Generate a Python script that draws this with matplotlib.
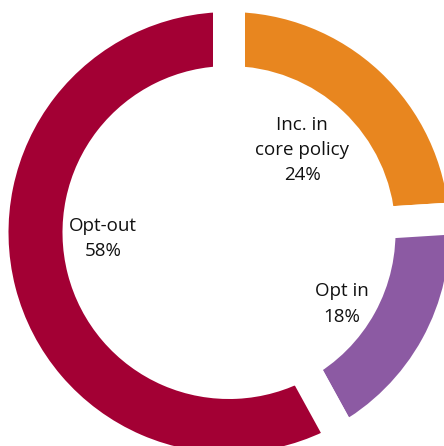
import matplotlib.pyplot as plt

# data
labels = ["Inc. in\ncore policy", "Opt in", "Opt-out"]
shares = [24, 18, 58]
colors = ["#E8861F", "#8C5AA3", "#A30034"]

# label anchor points (pixel coords, last-line baseline)
label_pos = [(302, 180), (341.5, 321.5), (103, 256)]

W, H = 444, 446
cx, cy = 229, 232.5
r_out, r_in = 220.5, 166.5
gap = 32  # px of white between slices

fig = plt.figure(figsize=(W / 100, H / 100), dpi=100)
ax = fig.add_axes([0, 0, 1, 1])

ax.pie(shares, colors=colors, startangle=90, counterclock=False,
       radius=r_out + gap / 2, center=(cx, H - cy),
       wedgeprops=dict(width=(r_out - r_in) + gap, edgecolor="white",
                       linewidth=gap * 0.72, joinstyle="miter"))

for lab, val, (x, y) in zip(labels, shares, label_pos):
    ax.text(x, H - y, f"{lab}\n{val}%", ha="center", va="baseline",
            multialignment="center", fontsize=13.5, family="Open Sans",
            color="#111111", linespacing=1.5)

ax.set_xlim(0, W)
ax.set_ylim(0, H)
ax.axis("off")

fig.savefig("out.png", dpi=100, facecolor="white")
